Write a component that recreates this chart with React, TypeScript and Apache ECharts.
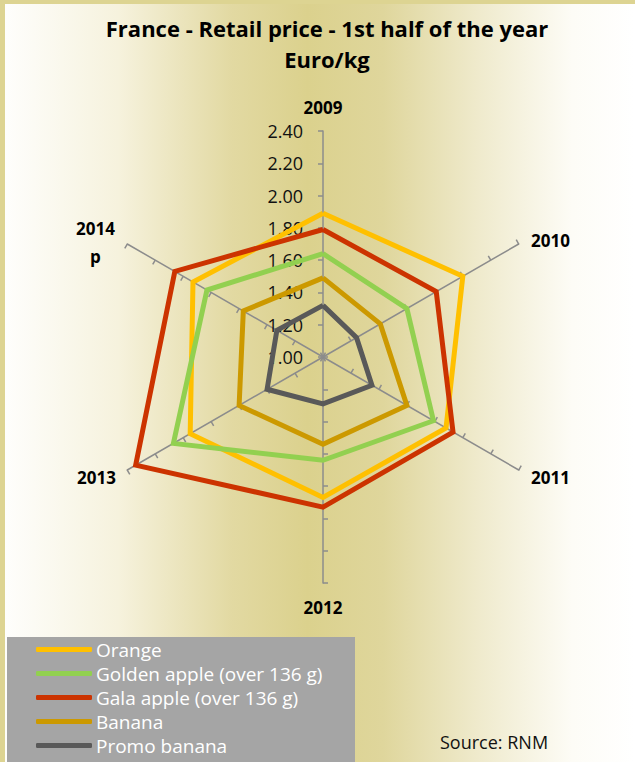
import React, { useEffect, useRef } from "react";
import * as echarts from "echarts";

const years = ["2009", "2010", "2011", "2012", "2013", "2014\np"];
const seriesNames = [
  "Orange",
  "Golden apple (over 136 g)",
  "Gala apple (over 136 g)",
  "Banana",
  "Promo banana",
];
const orange = [1.89, 2.0, 1.88, 1.87, 1.95, 1.93];
const golden = [1.64, 1.6, 1.79, 1.64, 2.07, 1.83];
const gala = [1.79, 1.81, 1.93, 1.93, 2.34, 2.06];
const banana = [1.49, 1.41, 1.6, 1.54, 1.6, 1.57];
const promo = [1.32, 1.24, 1.35, 1.29, 1.4, 1.33];
const colors = ["#ffc000", "#92d050", "#cc3300", "#cc9900", "#595959"];
const scaleMin = 1.0;
const scaleMax = 2.4;
const scaleStep = 0.2;

// radar draws counter-clockwise; reference runs clockwise from the top
const order = [0, 5, 4, 3, 2, 1];
// rich-text style tag per year label (to nudge side labels outward)
const nameTags = ["t", "ru", "rd", "b", "ld", "lu"];

export default function App() {
  const ref = useRef<HTMLDivElement>(null);
  useEffect(() => {
    document.body.style.margin = "0";
    const chart = echarts.init(ref.current!, null, { renderer: "svg" });
    const allSeries = [orange, golden, gala, banana, promo];
    const font = "'Open Sans', sans-serif";
    const nameBase = {
      color: "#000",
      fontWeight: "bold",
      fontSize: 17,
      fontFamily: font,
      align: "center",
    };
    chart.setOption({
      animation: false,
      textStyle: { fontFamily: font },
      title: {
        text: "France - Retail price - 1st half of the year\nEuro/kg",
        left: 322,
        textAlign: "center",
        top: 7,
        textStyle: {
          fontFamily: font,
          fontWeight: "bold",
          fontSize: 22,
          lineHeight: 31,
          color: "#000",
        },
      },
      graphic: [
        {
          type: "rect",
          shape: { x: 7, y: 637, width: 348, height: 130 },
          style: { fill: "#a5a5a5" },
          z: 0,
        },
        {
          type: "text",
          left: 440,
          top: 733,
          style: {
            text: "Source: RNM",
            fontFamily: font,
            fontSize: 18,
            fill: "#111",
          },
        },
      ],
      legend: {
        orient: "vertical",
        left: 36,
        top: 640,
        padding: 0,
        height: 130,
        itemWidth: 56,
        itemHeight: 5,
        itemGap: 5,
        icon: "roundRect",
        data: seriesNames,
        textStyle: {
          color: "#fff",
          fontSize: 19,
          lineHeight: 19,
          fontFamily: font,
          padding: [0, 0, 0, -1],
        },
      },
      radar: {
        center: [323, 357],
        radius: 226,
        startAngle: 90,
        splitNumber: 7,
        shape: "polygon",
        indicator: order.map((i) => ({
          name: years[i],
          min: scaleMin,
          max: scaleMax,
        })),
        axisName: {
          ...nameBase,
          verticalAlign: "middle",
          lineHeight: 26,
          formatter: (name: string) => {
            const idx = years.indexOf(name);
            const tag = nameTags[idx];
            if (tag === "lu") {
              const parts = name.split("\n");
              return `{sp| }\n{lu|${parts[0]}}\n{lu|${parts[1]}}`;
            }
            return `{${tag}|${name}}`;
          },
          rich: {
            t: { ...nameBase },
            b: { ...nameBase },
            ru: { ...nameBase, padding: [16, 0, 0, 22] },
            rd: { ...nameBase, padding: [0, 0, 10, 22] },
            ld: { ...nameBase, padding: [0, 20, 10, 0] },
            sp: { ...nameBase, fontSize: 10, lineHeight: 20 },
            lu: { ...nameBase, padding: [0, 22, 0, 0], lineHeight: 28 },
          },
        },
        nameGap: 24,
        splitLine: { show: false },
        splitArea: { show: false },
        axisLine: { lineStyle: { color: "#8c8c8c", width: 1.5 } },
        axisTick: { show: true, length: 5, lineStyle: { color: "#8c8c8c", width: 1.5 } },
        axisLabel: { show: false },
      },
      polar: { center: [323, 357], radius: 226 },
      angleAxis: {
        startAngle: 90,
        show: false,
        min: 0,
        max: 360,
      },
      radiusAxis: {
        min: scaleMin,
        max: scaleMax,
        interval: scaleStep,
        axisLine: { show: false },
        axisTick: { show: false },
        splitLine: { show: false },
        axisLabel: {
          show: true,
          color: "#111",
          fontSize: 18,
          fontFamily: font,
          align: "right",
          margin: 20,
          formatter: (v: number) => v.toFixed(2),
        },
      },
      series: [
        {
          type: "radar",
          symbol: "none",
          data: allSeries.map((arr, k) => ({
            name: seriesNames[k],
            value: order.map((i) => arr[i]),
            lineStyle: { color: colors[k], width: 5, join: "miter" },
            itemStyle: { color: colors[k] },
          })),
        },
      ],
    });
    return () => chart.dispose();
  }, []);
  return (
    <div
      style={{
        width: 635,
        height: 762,
        background: "#ddd492",
        position: "relative",
        overflow: "hidden",
      }}
    >
      <div
        style={{
          position: "absolute",
          left: 5,
          top: 4,
          right: 0,
          bottom: 0,
          background:
            "linear-gradient(to right, #fefefc 0%, #f6f2dd 18%, #e2d9a2 36%, #dbd18d 48%, #dfd69c 60%, #efeacc 75%, #fdfcf6 90%, #ffffff 100%)",
        }}
      />
      <div
        ref={ref}
        style={{ position: "absolute", left: 0, top: 0, width: 635, height: 762 }}
      />
    </div>
  );
}
